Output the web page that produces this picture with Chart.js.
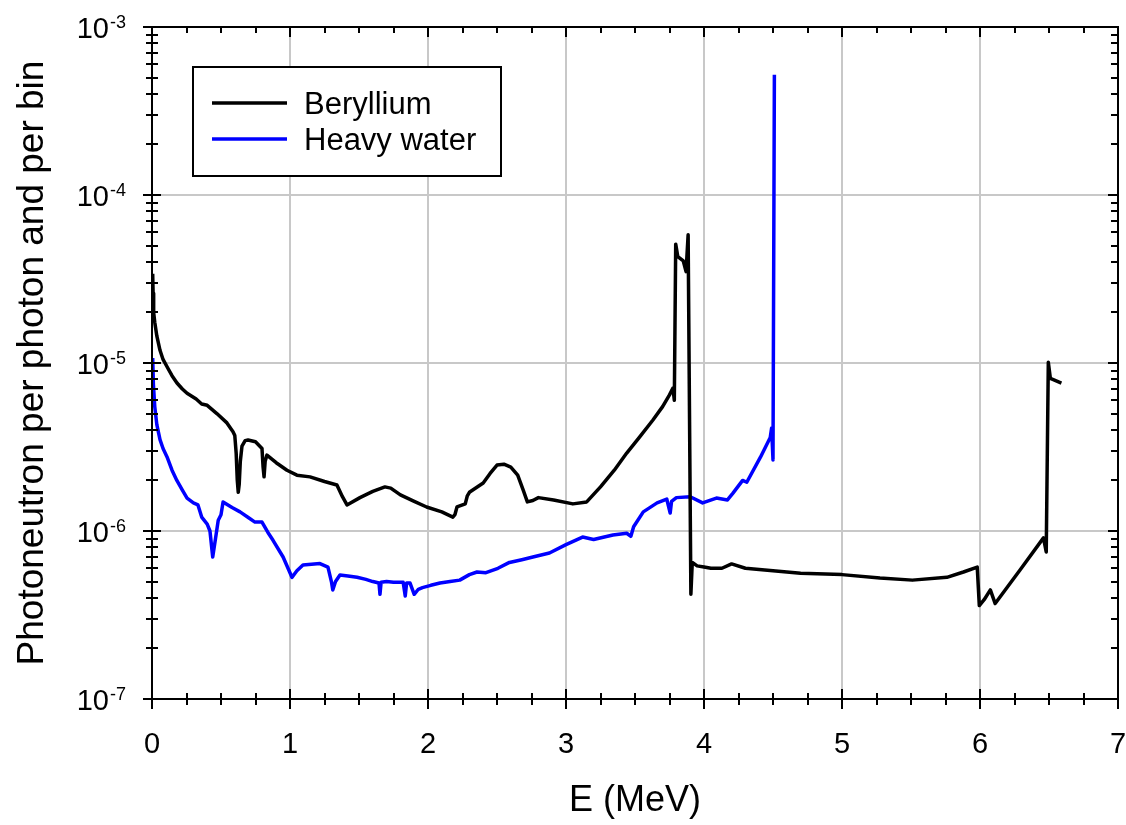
<!DOCTYPE html>
<html>
<head>
<meta charset="utf-8">
<script src="https://cdn.jsdelivr.net/npm/chart.js@4"></script>
<style>
  html, body { margin: 0; padding: 0; background: #ffffff; }
  canvas { display: block; }
</style>
</head>
<body>
<canvas id="chart" width="1126" height="825"></canvas>
<script>
// Photoneutron spectra: energy (MeV) and yield per photon and per bin
const berylliumE = [0.005, 0.008, 0.012, 0.02, 0.035, 0.058, 0.08, 0.109, 0.145, 0.181, 0.22, 0.254, 0.32, 0.36, 0.40, 0.47, 0.543, 0.587, 0.60, 0.61, 0.618, 0.625, 0.632, 0.64, 0.652, 0.675, 0.696, 0.75, 0.797, 0.805, 0.812, 0.82, 0.833, 0.90, 0.978, 1.05, 1.145, 1.25, 1.34, 1.38, 1.413, 1.507, 1.60, 1.688, 1.73, 1.80, 1.90, 1.99, 2.10, 2.18, 2.195, 2.21, 2.27, 2.285, 2.30, 2.40, 2.45, 2.50, 2.55, 2.60, 2.65, 2.69, 2.72, 2.76, 2.80, 2.91, 3.05, 3.15, 3.25, 3.35, 3.44, 3.53, 3.63, 3.70, 3.75, 3.775, 3.785, 3.795, 3.81, 3.85, 3.87, 3.885, 3.905, 3.915, 3.95, 4.0, 4.05, 4.13, 4.2, 4.3, 4.5, 4.7, 5.0, 5.275, 5.51, 5.76, 5.88, 5.98, 5.995, 6.03, 6.075, 6.11, 6.29, 6.46, 6.48, 6.495, 6.51, 6.59];
const berylliumV = [3.4e-5, 2.6e-5, 2.0e-5, 1.75e-5, 1.45e-5, 1.19e-5, 1.05e-5, 9.5e-6, 8.4e-6, 7.6e-6, 7.0e-6, 6.6e-6, 6.1e-6, 5.7e-6, 5.6e-6, 5.0e-6, 4.4e-6, 3.9e-6, 3.7e-6, 2.9e-6, 2.0e-6, 1.7e-6, 1.9e-6, 2.6e-6, 3.2e-6, 3.45e-6, 3.48e-6, 3.4e-6, 3.1e-6, 2.4e-6, 2.1e-6, 2.6e-6, 2.83e-6, 2.55e-6, 2.3e-6, 2.15e-6, 2.1e-6, 1.97e-6, 1.88e-6, 1.6e-6, 1.43e-6, 1.58e-6, 1.72e-6, 1.83e-6, 1.8e-6, 1.64e-6, 1.5e-6, 1.39e-6, 1.3e-6, 1.21e-6, 1.25e-6, 1.39e-6, 1.45e-6, 1.62e-6, 1.7e-6, 1.93e-6, 2.2e-6, 2.47e-6, 2.5e-6, 2.4e-6, 2.15e-6, 1.75e-6, 1.49e-6, 1.52e-6, 1.58e-6, 1.53e-6, 1.45e-6, 1.49e-6, 1.83e-6, 2.3e-6, 2.91e-6, 3.6e-6, 4.58e-6, 5.5e-6, 6.46e-6, 7.1e-6, 6.0e-6, 5.1e-5, 4.3e-5, 4.05e-5, 3.5e-5, 5.8e-5, 4.2e-7, 6.5e-7, 6.2e-7, 6.1e-7, 6.0e-7, 6.0e-7, 6.37e-7, 6.0e-7, 5.8e-7, 5.6e-7, 5.5e-7, 5.25e-7, 5.1e-7, 5.3e-7, 5.7e-7, 6.1e-7, 3.6e-7, 3.9e-7, 4.46e-7, 3.7e-7, 5.86e-7, 9.1e-7, 7.5e-7, 1.01e-5, 8.1e-6, 7.6e-6];

const heavyWaterE = [0.005, 0.01, 0.02, 0.035, 0.058, 0.08, 0.109, 0.145, 0.18, 0.22, 0.254, 0.30, 0.333, 0.36, 0.40, 0.42, 0.44, 0.46, 0.48, 0.50, 0.515, 0.58, 0.638, 0.70, 0.746, 0.797, 0.84, 0.877, 0.95, 1.014, 1.05, 1.094, 1.217, 1.275, 1.30, 1.31, 1.33, 1.362, 1.42, 1.486, 1.55, 1.60, 1.645, 1.652, 1.66, 1.70, 1.75, 1.82, 1.835, 1.845, 1.87, 1.90, 1.93, 1.96, 2.02, 2.087, 2.16, 2.23, 2.30, 2.355, 2.42, 2.507, 2.59, 2.68, 2.76, 2.88, 3.0, 3.12, 3.2, 3.34, 3.44, 3.47, 3.49, 3.56, 3.66, 3.73, 3.755, 3.765, 3.80, 3.90, 3.99, 4.09, 4.17, 4.21, 4.28, 4.31, 4.41, 4.48, 4.49, 4.50, 4.51];
const heavyWaterV = [1.07e-5, 7.5e-6, 5.5e-6, 4.3e-6, 3.5e-6, 3.1e-6, 2.76e-6, 2.3e-6, 2.0e-6, 1.75e-6, 1.57e-6, 1.47e-6, 1.43e-6, 1.21e-6, 1.1e-6, 1.0e-6, 7.0e-7, 9.0e-7, 1.16e-6, 1.25e-6, 1.49e-6, 1.38e-6, 1.30e-6, 1.2e-6, 1.13e-6, 1.13e-6, 9.8e-7, 8.8e-7, 7.0e-7, 5.3e-7, 5.8e-7, 6.28e-7, 6.4e-7, 6.1e-7, 5.0e-7, 4.46e-7, 5.0e-7, 5.47e-7, 5.4e-7, 5.3e-7, 5.15e-7, 5.0e-7, 4.9e-7, 4.2e-7, 4.95e-7, 5.0e-7, 4.95e-7, 4.95e-7, 4.1e-7, 4.9e-7, 4.9e-7, 4.2e-7, 4.5e-7, 4.6e-7, 4.75e-7, 4.9e-7, 5.0e-7, 5.1e-7, 5.5e-7, 5.7e-7, 5.65e-7, 6.0e-7, 6.5e-7, 6.75e-7, 7.0e-7, 7.4e-7, 8.3e-7, 9.2e-7, 8.9e-7, 9.47e-7, 9.7e-7, 9.3e-7, 1.06e-6, 1.30e-6, 1.47e-6, 1.55e-6, 1.28e-6, 1.5e-6, 1.58e-6, 1.6e-6, 1.47e-6, 1.57e-6, 1.53e-6, 1.68e-6, 2.0e-6, 1.95e-6, 2.76e-6, 3.6e-6, 4.1e-6, 2.65e-6, 5.2e-4];

const seriesNames = ['Beryllium', 'Heavy water'];
const seriesColors = ['#000000', '#0000ff'];
const xTickValues = [0, 1, 2, 3, 4, 5, 6, 7];
const yExponents = [-7, -6, -5, -4, -3];
const xTitle = 'E (MeV)';
const yTitle = 'Photoneutron per photon and per bin';

const FONT = 'Arial, "Liberation Sans", Helvetica, sans-serif';

function toPoints(xs, ys) {
  return xs.map((x, i) => ({ x: x, y: ys[i] }));
}

// Gridlines, frame, ticks, labels, titles and legend box
const axesPlugin = {
  id: 'axesDecor',
  beforeDatasetsDraw(chart) {
    const { ctx, chartArea: a, scales: { x, y } } = chart;
    ctx.save();
    ctx.strokeStyle = '#c8c8c8';
    ctx.lineWidth = 2;
    ctx.beginPath();
    xTickValues.slice(1, -1).forEach(v => {
      const px = Math.round(x.getPixelForValue(v));
      ctx.moveTo(px, a.top); ctx.lineTo(px, a.bottom);
    });
    yExponents.slice(1, -1).forEach(e => {
      const py = Math.round(y.getPixelForValue(Math.pow(10, e)));
      ctx.moveTo(a.left, py); ctx.lineTo(a.right, py);
    });
    ctx.stroke();
    ctx.restore();
  },
  afterDatasetsDraw(chart) {
    const { ctx, chartArea: a, scales: { x, y } } = chart;
    ctx.save();
    ctx.strokeStyle = '#000';
    ctx.fillStyle = '#000';
    ctx.lineWidth = 2;
    ctx.lineCap = 'butt';

    // frame
    ctx.strokeRect(a.left, a.top, a.right - a.left, a.bottom - a.top);

    // x ticks (bottom crosses the axis, top points inward)
    ctx.beginPath();
    for (let i = 0; i <= 28; i++) {
      const v = i / 4;
      const px = Math.round(x.getPixelForValue(v));
      const major = i % 4 === 0;
      const len = major ? 10 : 6;
      ctx.moveTo(px, a.bottom - len); ctx.lineTo(px, a.bottom + len);
      ctx.moveTo(px, a.top); ctx.lineTo(px, a.top + len);
    }
    // y ticks (left crosses the axis, right points inward)
    for (let e = yExponents[0]; e <= yExponents[yExponents.length - 1]; e++) {
      for (let m = 1; m <= 9; m++) {
        if (e === yExponents[yExponents.length - 1] && m > 1) break;
        const py = Math.round(y.getPixelForValue(m * Math.pow(10, e)));
        const major = m === 1;
        const len = major ? 9 : 6;
        ctx.moveTo(a.left - len, py); ctx.lineTo(a.left + len, py);
        ctx.moveTo(a.right - len - 1, py); ctx.lineTo(a.right, py);
      }
    }
    ctx.stroke();

    // x tick labels
    ctx.font = '29px ' + FONT;
    ctx.textAlign = 'center';
    ctx.textBaseline = 'alphabetic';
    xTickValues.forEach(v => {
      ctx.fillText(String(v), x.getPixelForValue(v), a.bottom + 54);
    });

    // y tick labels: 10 with superscript exponent
    yExponents.forEach(e => {
      const py = y.getPixelForValue(Math.pow(10, e));
      const rightEdge = a.left - 26;
      ctx.textAlign = 'right';
      ctx.font = '18px ' + FONT;
      const sup = String(e);
      const supW = ctx.measureText(sup).width;
      ctx.fillText(sup, rightEdge, py + 1);
      ctx.font = '29px ' + FONT;
      ctx.fillText('10', rightEdge - supW - 1, py + 11);
    });

    // axis titles
    ctx.font = '36px ' + FONT;
    ctx.textAlign = 'center';
    ctx.fillText(xTitle, (a.left + a.right) / 2, 811);
    ctx.save();
    ctx.translate(43, (a.top + a.bottom) / 2);
    ctx.rotate(-Math.PI / 2);
    ctx.font = '37px ' + FONT;
    ctx.fillText(yTitle, 0, 0);
    ctx.restore();

    // legend box
    const bx = 193, by = 67, bw = 308, bh = 109;
    ctx.fillStyle = '#fff';
    ctx.fillRect(bx, by, bw, bh);
    ctx.strokeStyle = '#000';
    ctx.lineWidth = 2;
    ctx.strokeRect(bx, by, bw, bh);
    ctx.font = '31px ' + FONT;
    ctx.textAlign = 'left';
    seriesNames.forEach((name, i) => {
      const ly = 103 + i * 36;
      ctx.strokeStyle = seriesColors[i];
      ctx.lineWidth = 3.5;
      ctx.beginPath();
      ctx.moveTo(212, ly); ctx.lineTo(287, ly);
      ctx.stroke();
      ctx.fillStyle = '#000';
      ctx.fillText(name, 304, ly + 11);
    });
    ctx.restore();
  }
};

new Chart(document.getElementById('chart'), {
  type: 'line',
  data: {
    datasets: [
      {
        label: seriesNames[0],
        data: toPoints(berylliumE, berylliumV),
        borderColor: seriesColors[0],
        borderWidth: 3.5,
        borderJoinStyle: 'round',
        pointRadius: 0,
        tension: 0,
        fill: false
      },
      {
        label: seriesNames[1],
        data: toPoints(heavyWaterE, heavyWaterV),
        borderColor: seriesColors[1],
        borderWidth: 3.5,
        borderJoinStyle: 'round',
        pointRadius: 0,
        tension: 0,
        fill: false
      }
    ]
  },
  options: {
    responsive: false,
    animation: false,
    devicePixelRatio: 1,
    layout: { padding: { top: 27, right: 8, left: 0, bottom: 0 } },
    plugins: { legend: { display: false }, tooltip: { enabled: false } },
    scales: {
      x: {
        type: 'linear', min: 0, max: 7,
        grid: { display: false }, border: { display: false },
        ticks: { display: false },
        afterFit(scale) { scale.height = 126; }
      },
      y: {
        type: 'logarithmic', min: 1e-7, max: 1e-3,
        grid: { display: false }, border: { display: false },
        ticks: { display: false },
        afterFit(scale) { scale.width = 152; }
      }
    }
  },
  plugins: [axesPlugin]
});
</script>
</body>
</html>
